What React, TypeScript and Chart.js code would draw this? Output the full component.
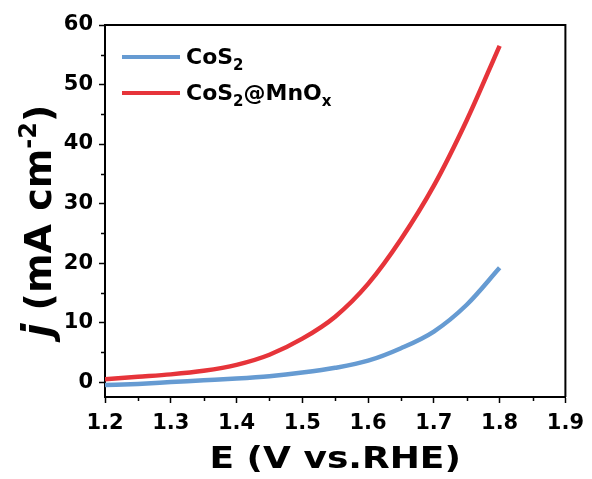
import React, { useEffect, useRef } from "react";
import { Chart, registerables } from "chart.js";

Chart.register(...registerables);

const potential = [1.2, 1.25, 1.3, 1.35, 1.4, 1.45, 1.5, 1.55, 1.6, 1.65, 1.7, 1.75, 1.8];
const cos2 = [-0.5, -0.3, 0.0, 0.3, 0.6, 1.0, 1.6, 2.4, 3.6, 5.7, 8.5, 13.0, 19.2];
const cos2MnOx = [0.5, 0.9, 1.3, 1.9, 2.9, 4.6, 7.3, 11.0, 16.5, 24.0, 33.0, 44.0, 56.5];
const xTicks = [1.2, 1.3, 1.4, 1.5, 1.6, 1.7, 1.8, 1.9];
const xMinorTicks = [1.25, 1.35, 1.45, 1.55, 1.65, 1.75, 1.85];
const yTicks = [0, 10, 20, 30, 40, 50, 60];
const yMinorTicks = [5, 15, 25, 35, 45, 55];
const seriesNames = ["CoS", "CoS"];

const BLUE = "rgb(102,155,210)";
const RED = "rgb(230,52,58)";
const FONT = "'DejaVu Sans', sans-serif";

export default function App() {
  const ref = useRef<HTMLCanvasElement>(null);
  useEffect(() => {
    const canvas = ref.current!;
    const decor = {
      id: "decor",
      afterDraw(chart: any) {
        const ctx = chart.ctx;
        const a = chart.chartArea;
        const xs = chart.scales.x;
        const ys = chart.scales.y;
        ctx.save();
        // frame top/right
        ctx.strokeStyle = "#000";
        ctx.lineWidth = 2;
        ctx.beginPath();
        ctx.moveTo(a.left, a.top);
        ctx.lineTo(a.right, a.top);
        ctx.lineTo(a.right, a.bottom);
        ctx.stroke();
        // minor ticks
        ctx.lineWidth = 1.5;
        ctx.beginPath();
        for (const v of xMinorTicks) {
          const px = Math.round(xs.getPixelForValue(v)) + 0.5;
          ctx.moveTo(px, a.bottom);
          ctx.lineTo(px, a.bottom + 4);
        }
        for (const v of yMinorTicks) {
          const py = Math.round(ys.getPixelForValue(v)) + 0.5;
          ctx.moveTo(a.left, py);
          ctx.lineTo(a.left - 4, py);
        }
        ctx.stroke();
        // x title (slightly widened like the reference)
        ctx.fillStyle = "#000";
        ctx.save();
        ctx.translate((a.left + a.right) / 2, 468);
        ctx.scale(1.2, 1);
        ctx.font = `bold 30px ${FONT}`;
        ctx.textAlign = "center";
        ctx.textBaseline = "alphabetic";
        ctx.fillText("E (V vs.RHE)", 0, 0);
        ctx.restore();
        // y title (rotated) with italic j and superscript
        ctx.save();
        ctx.translate(51, 221);
        ctx.rotate(-Math.PI / 2);
        const segs = [
          { t: "j", f: `italic bold 40px ${FONT}`, dy: 0 },
          { t: " (mA cm", f: `bold 38px ${FONT}`, dy: 0 },
          { t: "-2", f: `bold 24px ${FONT}`, dy: -15 },
          { t: ")", f: `bold 38px ${FONT}`, dy: 0 },
        ];
        let total = 0;
        for (const s of segs) {
          ctx.font = s.f;
          total += ctx.measureText(s.t).width;
        }
        let x = -total / 2;
        ctx.textAlign = "left";
        ctx.textBaseline = "alphabetic";
        for (const s of segs) {
          ctx.font = s.f;
          ctx.fillText(s.t, x, s.dy);
          x += ctx.measureText(s.t).width;
        }
        ctx.restore();
        // legend
        const rows = [
          { color: BLUE, y: 57, sub2: false },
          { color: RED, y: 93, sub2: true },
        ];
        rows.forEach((r, i) => {
          ctx.strokeStyle = r.color;
          ctx.lineWidth = 4;
          ctx.beginPath();
          ctx.moveTo(122, r.y);
          ctx.lineTo(180, r.y);
          ctx.stroke();
          ctx.fillStyle = "#000";
          ctx.textAlign = "left";
          ctx.textBaseline = "alphabetic";
          let lx = 186;
          const base = r.y + 7;
          ctx.font = `bold 22px ${FONT}`;
          ctx.fillText(seriesNames[i], lx, base);
          lx += ctx.measureText(seriesNames[i]).width;
          ctx.font = `bold 15px ${FONT}`;
          ctx.fillText("2", lx, base + 6);
          lx += ctx.measureText("2").width;
          if (r.sub2) {
            ctx.font = `bold 22px ${FONT}`;
            ctx.fillText("@MnO", lx, base);
            lx += ctx.measureText("@MnO").width;
            ctx.font = `bold 15px ${FONT}`;
            ctx.fillText("x", lx, base + 6);
          }
        });
        ctx.restore();
      },
    };
    const chart = new Chart(canvas, {
      type: "line",
      data: {
        datasets: [
          {
            label: "CoS2",
            data: potential.map((v, i) => ({ x: v, y: cos2[i] })),
            borderColor: BLUE,
            borderWidth: 4.5,
            pointRadius: 0,
            cubicInterpolationMode: "monotone",
          },
          {
            label: "CoS2@MnOx",
            data: potential.map((v, i) => ({ x: v, y: cos2MnOx[i] })),
            borderColor: RED,
            borderWidth: 4.5,
            pointRadius: 0,
            cubicInterpolationMode: "monotone",
          },
        ],
      },
      options: {
        animation: false,
        responsive: false,
        devicePixelRatio: 1,
        layout: { padding: { left: 0, top: 25, right: 26, bottom: 0 } },
        plugins: { legend: { display: false }, tooltip: { enabled: false } },
        scales: {
          x: {
            type: "linear",
            min: 1.2,
            max: 1.9,
            afterBuildTicks: (s: any) => {
              s.ticks = xTicks.map((v) => ({ value: v }));
            },
            afterFit: (s: any) => {
              s.height = 82;
            },
            ticks: {
              color: "#000",
              font: { family: FONT, size: 21, weight: "bold" },
              padding: 8,
              maxRotation: 0,
              callback: (v: any) => Number(v).toFixed(1),
            },
            grid: { drawOnChartArea: false, tickLength: 6, tickWidth: 1.5, tickColor: "#000" },
            border: { display: true, color: "#000", width: 2 },
          },
          y: {
            type: "linear",
            min: -2.5,
            max: 60,
            afterBuildTicks: (s: any) => {
              s.ticks = yTicks.map((v) => ({ value: v }));
            },
            afterFit: (s: any) => {
              s.width = 105;
            },
            ticks: {
              color: "#000",
              font: { family: FONT, size: 21, weight: "bold" },
              padding: 6,
            },
            grid: { drawOnChartArea: false, tickLength: 6, tickWidth: 1.5, tickColor: "#000" },
            border: { display: true, color: "#000", width: 2 },
          },
        },
      },
      plugins: [decor],
    } as any);
    return () => chart.destroy();
  }, []);
  return (
    <div style={{ position: "fixed", left: 0, top: 0, width: 592, height: 479, background: "#fff" }}>
      <canvas ref={ref} width={592} height={479} style={{ width: 592, height: 479, display: "block" }} />
    </div>
  );
}
